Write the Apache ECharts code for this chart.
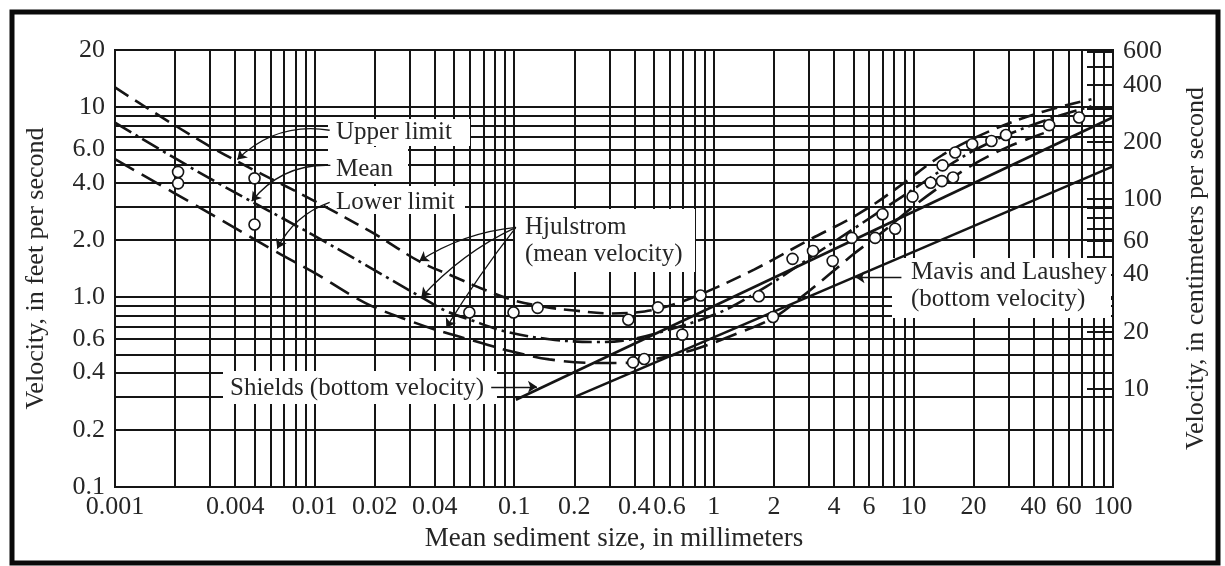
<!DOCTYPE html>
<html>
<head>
<meta charset="utf-8">
<script src="https://cdn.jsdelivr.net/npm/echarts@6/dist/echarts.min.js"></script>
<style>
  html, body { margin: 0; padding: 0; background: #fff; }
  #c { width: 1225px; height: 566px; }
</style>
</head>
<body>
<div id="c"></div>
<script>
// ---- tick labels -------------------------------------------------------
const xTickLabels = [0.001, 0.004, 0.01, 0.02, 0.04, 0.1, 0.2, 0.4, 0.6, 1, 2, 4, 6, 10, 20, 40, 60, 100];
const ftTickLabels = [0.1, 0.2, 0.4, 0.6, 1, 2, 4, 6, 10, 20];
const cmTickLabels = [10, 20, 40, 60, 100, 200, 400, 600];
const cmTickMarks = [10, 20, 30, 40, 50, 60, 70, 80, 90, 100, 200, 300, 400, 500, 600];

// ---- Hjulstrom curves: [mean sediment size (mm), velocity (ft/s)] -------
const upperLimit = [
  [0.001, 12.7], [0.003, 6.2], [0.01, 3.2], [0.02, 2.15], [0.0335, 1.54], [0.05, 1.28],
  [0.07, 1.1], [0.1, 0.96], [0.15, 0.88], [0.2, 0.85], [0.3, 0.82], [0.45, 0.84],
  [0.6, 0.9], [0.87, 1.04], [1.6, 1.4], [3, 2.0], [4.7, 2.55], [6.4, 3.1], [9, 4.0],
  [14, 5.6], [25, 7.6], [45, 9.5], [78, 11.0]
];
const meanCurve = [
  [0.001, 8.3], [0.003, 4.2], [0.01, 2.1], [0.0342, 1.0], [0.045, 0.85], [0.06, 0.76],
  [0.09, 0.66], [0.15, 0.6], [0.25, 0.58], [0.35, 0.59], [0.53, 0.65], [1.07, 0.83],
  [1.84, 1.14], [3, 1.6], [5.4, 2.41], [10, 3.7], [14, 4.7], [20, 5.9], [30, 7.2],
  [50, 8.8], [78, 10.1]
];
const lowerLimit = [
  [0.001, 5.32], [0.003, 2.75], [0.0065, 1.72], [0.01, 1.34], [0.018, 0.93], [0.031, 0.74],
  [0.045, 0.65], [0.07, 0.57], [0.095, 0.52], [0.15, 0.47], [0.25, 0.45], [0.35, 0.45],
  [0.5, 0.47], [0.8, 0.53], [1.2, 0.62], [2, 0.78], [2.75, 1.0], [3.9, 1.35], [5, 1.68],
  [7, 2.2], [10, 3.0], [14, 3.9], [20, 5.0], [30, 6.2], [45, 7.3]
];

// ---- bottom-velocity lines ----------------------------------------------
const shieldsLine = [[0.102, 0.288], [100, 8.85]];
const mavisLausheyLine = [[0.204, 0.30], [100, 4.88]];

// ---- observed points ------------------------------------------------------
const obsSize = [0.00207, 0.00207, 0.005, 0.005, 0.0596, 0.0992, 0.131, 0.373, 0.394, 0.448,
  0.525, 0.695, 0.858, 1.68, 1.98, 2.48, 3.14, 3.94, 4.91, 6.43, 7.0, 8.1, 9.9, 12.2, 13.9,
  15.8, 14.0, 16.2, 19.7, 24.6, 29.1, 47.9, 67.6];
const obsVel = [4.56, 3.97, 4.22, 2.41, 0.83, 0.83, 0.877, 0.76, 0.453, 0.472,
  0.883, 0.634, 1.02, 1.01, 0.786, 1.59, 1.75, 1.55, 2.05, 2.05, 2.73, 2.29, 3.38, 4.0, 4.08,
  4.26, 4.94, 5.77, 6.38, 6.64, 7.14, 8.04, 8.82];

// ---- leader arrows: from label to curve (data coordinates) ---------------
const leaders = [
  { from: [0.0119, 7.56], to: [0.0041, 5.3], curve: -0.25 },    // Upper limit
  { from: [0.012, 4.94], to: [0.00484, 3.2], curve: -0.25 },    // Mean
  { from: [0.0119, 3.15], to: [0.0065, 1.8], curve: -0.2 },     // Lower limit
  { from: [0.102, 2.33], to: [0.0335, 1.55], curve: -0.12 },    // Hjulstrom -> upper
  { from: [0.102, 2.33], to: [0.0343, 1.0], curve: -0.1 },      // Hjulstrom -> mean
  { from: [0.102, 2.33], to: [0.0457, 0.69], curve: -0.03 },    // Hjulstrom -> lower
  { from: [0.0767, 0.337], to: [0.13, 0.337], curve: 0 },       // Shields
  { from: [8.71, 1.27], to: [5.13, 1.27], curve: 0 }            // Mavis and Laushey
];

// ---- grid line values: 1..9 in every decade ----------------------------
const xGrid = [];
for (let e = -3; e < 2; e++) for (let m = 1; m < 10; m++) xGrid.push(+(m * Math.pow(10, e)).toPrecision(3));
xGrid.push(100);
const yGrid = [];
for (let e = -1; e < 1; e++) for (let m = 1; m < 10; m++) yGrid.push(+(m * Math.pow(10, e)).toPrecision(3));
yGrid.push(10, 20);

const FONT = '"Liberation Serif", "Times New Roman", serif';
const INK = '#151515';
const TXT = '#262626';

const chart = echarts.init(document.getElementById('c'), null, { renderer: 'canvas' });

const curve = (name, data, dash) => ({
  name, type: 'line', data, smooth: 0.35, showSymbol: false, symbol: 'none', z: 2,
  silent: true, animation: false,
  lineStyle: { color: INK, width: 2.6, type: dash, cap: 'butt' }
});
const straight = (name, data) => ({
  name, type: 'line', data, showSymbol: false, symbol: 'none', z: 2, silent: true,
  animation: false, lineStyle: { color: INK, width: 2.6 }
});

const numFmt = v => String(+(+v).toPrecision(6));

chart.setOption({
  animation: false,
  backgroundColor: '#fff',
  grid: { left: 115, right: 112, top: 50, bottom: 79, containLabel: false, outerBoundsMode: 'none',
          show: true, borderColor: INK, borderWidth: 2 },
  xAxis: {
    type: 'log', logBase: 10, min: 0.001, max: 100,
    axisLine: { show: true, lineStyle: { color: INK, width: 2 } },
    axisTick: { show: false, customValues: xGrid },
    splitLine: { show: true, lineStyle: { color: INK, width: 2 } },
    axisLabel: { customValues: xTickLabels, formatter: numFmt, hideOverlap: false,
                 fontFamily: FONT, fontSize: 26, color: TXT, margin: 7 },
    name: 'Mean sediment size, in millimeters', nameLocation: 'middle', nameGap: 38,
    nameTextStyle: { fontFamily: FONT, fontSize: 27, color: TXT }
  },
  yAxis: [
    {
      type: 'log', logBase: 10, min: 0.1, max: 20, position: 'left',
      axisLine: { show: true, lineStyle: { color: INK, width: 2 } },
      axisTick: { show: false, customValues: yGrid },
      splitLine: { show: true, lineStyle: { color: INK, width: 2 } },
      axisLabel: { customValues: ftTickLabels, hideOverlap: false,
                   formatter: v => (v < 10 ? (+v).toFixed(1) : numFmt(v)),
                   fontFamily: FONT, fontSize: 26, color: TXT, margin: 10 },
      name: 'Velocity, in feet per second', nameLocation: 'middle', nameRotate: 90, nameGap: 66,
      nameTextStyle: { fontFamily: FONT, fontSize: 26, color: TXT }
    },
    {
      type: 'log', logBase: 10, min: 3.048, max: 609.6, position: 'right',
      axisLine: { show: false },
      splitLine: { show: false },
      axisTick: { show: true, inside: true, length: 26, customValues: cmTickMarks,
                  lineStyle: { color: INK, width: 2 } },
      axisLabel: { customValues: cmTickLabels, formatter: numFmt, hideOverlap: false,
                   fontFamily: FONT, fontSize: 26, color: TXT, margin: 10 },
      name: 'Velocity, in centimeters per second', nameLocation: 'middle', nameRotate: 90, nameGap: 70,
      nameTextStyle: { fontFamily: FONT, fontSize: 26, color: TXT }
    }
  ],
  series: [
    curve('Upper limit', upperLimit, [16, 8]),
    curve('Mean', meanCurve, [19, 5, 3, 5]),
    curve('Lower limit', lowerLimit, [22, 9]),
    straight('Shields (bottom velocity)', shieldsLine),
    straight('Mavis and Laushey (bottom velocity)', mavisLausheyLine),
    {
      name: 'Observed', type: 'scatter', z: 5, silent: true, animation: false,
      symbol: 'circle', symbolSize: 11,
      itemStyle: { color: '#fff', borderColor: INK, borderWidth: 1.6, opacity: 1 },
      data: obsSize.map((d, i) => [d, obsVel[i]])
    },
    {
      name: 'Leaders', type: 'lines', coordinateSystem: 'cartesian2d', z: 4, silent: true,
      animation: false, symbol: ['none', 'arrow'], symbolSize: 9,
      lineStyle: { color: INK, width: 1.3, opacity: 1 },
      data: leaders.map(a => ({ coords: [a.from, a.to], lineStyle: { curveness: a.curve } }))
    }
  ]
});

// ---- label boxes (white panels over the grid) ----------------------------
const box = (x, y, w, h) => ({ type: 'rect', z: 1, silent: true,
  shape: { x, y, width: w, height: h }, style: { fill: '#fff', stroke: null } });
const label = (x, y, text) => ({ type: 'text', z: 3, silent: true, x, y,
  style: { text, font: '25px ' + FONT, fill: TXT, verticalAlign: 'middle', lineHeight: 27 } });

chart.setOption({
  graphic: [
    box(328, 119, 142, 27), label(336, 132, 'Upper limit'),
    box(328, 147, 80, 35), label(336, 169, 'Mean'),
    box(328, 186, 137, 28), label(336, 202, 'Lower limit'),
    box(515, 209, 180, 63), label(525, 241, 'Hjulstrom\n(mean velocity)'),
    box(892, 258, 219, 60), label(911, 286, 'Mavis and Laushey\n(bottom velocity)'),
    box(223, 371, 274, 33), label(230, 388, 'Shields (bottom velocity)'),
    { type: 'rect', z: 10, silent: true, shape: { x: 12, y: 12, width: 1206, height: 551 },
      style: { fill: null, stroke: '#0a0a0a', lineWidth: 5 } }
  ]
});
</script>
</body>
</html>
